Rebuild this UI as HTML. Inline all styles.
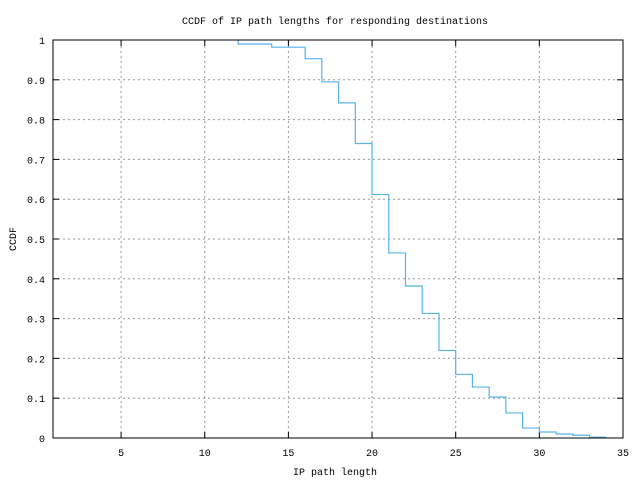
<!DOCTYPE html>
<html><head><meta charset="utf-8"><style>
body{margin:0;background:#fff}
svg text{font-family:"Liberation Mono","DejaVu Sans Mono",monospace;font-size:10px;fill:#000}
</style></head><body>
<svg id="c" width="640" height="480" xmlns="http://www.w3.org/2000/svg">
<rect width="640" height="480" fill="#fff"/>
<text x="335" y="24" text-anchor="middle">CCDF of IP path lengths for responding destinations</text>
<text x="335" y="475" text-anchor="middle">IP path length</text>
<text x="16" y="239" text-anchor="middle" transform="rotate(-90 16 239)">CCDF</text>
<g id="grid"></g><g id="ticks"></g><g id="series"></g>
<rect x="53" y="40" width="570" height="398" fill="none" stroke="#000" stroke-width="1"/>
</svg>
<script>
const xTicks=[5,10,15,20,25,30,35];
const yTicks=[0,0.1,0.2,0.3,0.4,0.5,0.6,0.7,0.8,0.9,1];
const yTickLabels=["0","0.1","0.2","0.3","0.4","0.5","0.6","0.7","0.8","0.9","1"];
const pathLengths=[12,13,14,15,16,17,18,19,20,21,22,23,24,25,26,27,28,29,30,31,32,33];
const ccdfValues=[0.99,0.99,0.982,0.982,0.953,0.895,0.842,0.74,0.612,0.465,0.382,0.313,0.22,0.16,0.128,0.103,0.063,0.025,0.015,0.01,0.007,0.002];
const X0=53,X1=623,Y0=438,Y1=40,xmin=0.93,xmax=35,ymin=0,ymax=1;
const sx=v=>X0+(v-xmin)/(xmax-xmin)*(X1-X0);
const sy=v=>Y0-(v-ymin)/(ymax-ymin)*(Y0-Y1);
const NS="http://www.w3.org/2000/svg";
function mk(t,a,p){const e=document.createElementNS(NS,t);for(const k in a)e.setAttribute(k,a[k]);p.appendChild(e);return e;}
const g=document.getElementById('grid'),tk=document.getElementById('ticks'),s=document.getElementById('series');
xTicks.forEach(v=>{const x=sx(v);
 if(x<X1-1){const l=mk('line',{x1:x,x2:x,y1:Y0,y2:Y1,stroke:'#999','stroke-dasharray':'2,3'},g);
 }
 mk('line',{x1:x,x2:x,y1:Y0,y2:Y0-6,stroke:'#000'},tk);mk('line',{x1:x,x2:x,y1:Y1,y2:Y1+6,stroke:'#000'},tk);
 const t=mk('text',{x:x,y:456,'text-anchor':'middle'},tk);t.textContent=v;
 });
yTicks.forEach((v,i)=>{const y=sy(v);
 if(i>0&&i<yTicks.length-1){const l=mk('line',{x1:X0,x2:X1,y1:y,y2:y,stroke:'#999','stroke-dasharray':'2,3'},g);
 }
 mk('line',{x1:X0,x2:X0+6,y1:y,y2:y,stroke:'#000'},tk);mk('line',{x1:X1,x2:X1-6,y1:y,y2:y,stroke:'#000'},tk);
 const t=mk('text',{x:45,y:y+4,'text-anchor':'end'},tk);t.textContent=yTickLabels[i];
 });
let d='M'+sx(pathLengths[0])+','+sy(1);
pathLengths.forEach((x,i)=>{d+=' L'+sx(x)+','+sy(ccdfValues[i])+' L'+sx(x+1)+','+sy(ccdfValues[i]);});
const p=mk('path',{d:d,fill:'none',stroke:'#56b4e9','stroke-width':1.2},s);


</script>
</body></html>
